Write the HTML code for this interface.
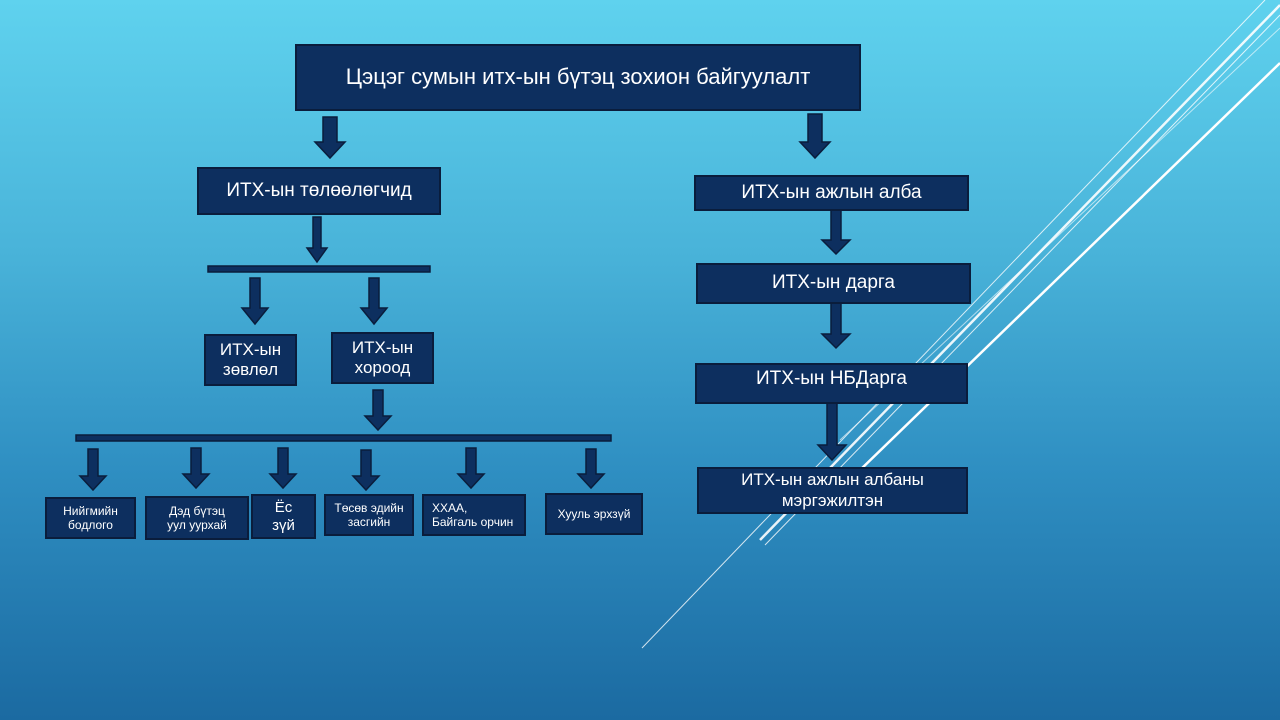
<!DOCTYPE html>
<html><head><meta charset="utf-8"><style>
body{margin:0;width:1280px;height:720px;overflow:hidden;position:relative;font-family:"Liberation Sans",sans-serif;
background:linear-gradient(180deg,#5fd2ee 0%,#49b3d9 35%,#2f8fc2 65%,#1b6aa1 100%);}
.b{position:absolute;background:#0d2f5f;border:2px solid #0a1d3c;color:#fff;box-sizing:border-box;display:flex;align-items:center;justify-content:center;text-align:center;line-height:1.2}
svg{position:absolute;left:0;top:0}
</style></head><body>
<svg width="1280" height="720">
<g stroke="#fff" fill="none">
<line x1="642" y1="648" x2="1265" y2="0" stroke-width="1" opacity=".8"/>
<line x1="760" y1="540" x2="1280" y2="5" stroke-width="2.5" opacity=".9"/>
<line x1="765" y1="545" x2="1280" y2="15" stroke-width="1" opacity=".8"/>
<line x1="824" y1="505" x2="1280" y2="63" stroke-width="2.5"/>
<line x1="840" y1="440" x2="1280" y2="28" stroke-width="1" opacity=".6"/>
</g>
<g fill="#0d2f5f" stroke="#0a1d3c" stroke-width="1.5">
<polygon points="323,117 337,117 337,142 345,142 330,158 315,142 323,142"/>
<polygon points="808,114 822,114 822,142 830,142 815,158 800,142 808,142"/>
<polygon points="313,217 321,217 321,248 327,248 317,262 307,248 313,248"/>
<polygon points="250,278 260,278 260,308 268,308 255,324 242,308 250,308"/>
<polygon points="369,278 379,278 379,308 387,308 374,324 361,308 369,308"/>
<polygon points="373,390 383,390 383,416 391,416 378,430 365,416 373,416"/>
<polygon points="88,449 98,449 98,476 106,476 93,490 80,476 88,476"/>
<polygon points="191,448 201,448 201,474 209,474 196,488 183,474 191,474"/>
<polygon points="278,448 288,448 288,474 296,474 283,488 270,474 278,474"/>
<polygon points="361,450 371,450 371,476 379,476 366,490 353,476 361,476"/>
<polygon points="466,448 476,448 476,474 484,474 471,488 458,474 466,474"/>
<polygon points="586,449 596,449 596,474 604,474 591,488 578,474 586,474"/>
<polygon points="831,204 841,204 841,240 850,240 836,254 822,240 831,240"/>
<polygon points="831,297 841,297 841,334 850,334 836,348 822,334 831,334"/>
<polygon points="827,400 837,400 837,445 846,445 832,460 818,445 827,445"/>
<rect x="208" y="266" width="222" height="6"/>
<rect x="76" y="435" width="535" height="6"/>
</g>
</svg>
<div class="b" style="left:295px;top:44px;width:566px;height:67px;font-size:22px">Цэцэг сумын итх-ын бүтэц зохион байгуулалт</div>
<div class="b" style="left:197px;top:167px;width:244px;height:48px;font-size:19px">ИТХ-ын төлөөлөгчид</div>
<div class="b" style="left:204px;top:334px;width:93px;height:52px;font-size:17px">ИТХ-ын<br>зөвлөл</div>
<div class="b" style="left:331px;top:332px;width:103px;height:52px;font-size:17px">ИТХ-ын<br>хороод</div>
<div class="b" style="left:45px;top:497px;width:91px;height:42px;font-size:12px">Нийгмийн<br>бодлого</div>
<div class="b" style="left:145px;top:496px;width:104px;height:44px;font-size:12px">Дэд бүтэц<br>уул уурхай</div>
<div class="b" style="left:251px;top:494px;width:65px;height:45px;font-size:15px">Ёс<br>зүй</div>
<div class="b" style="left:324px;top:494px;width:90px;height:42px;font-size:12px">Төсөв эдийн<br>засгийн</div>
<div class="b" style="left:422px;top:494px;width:104px;height:42px;font-size:12px;justify-content:flex-start;text-align:left;padding-left:8px">ХХАА,<br>Байгаль орчин</div>
<div class="b" style="left:545px;top:493px;width:98px;height:42px;font-size:12px">Хууль эрхзүй</div>
<div class="b" style="left:694px;top:175px;width:275px;height:36px;font-size:19px">ИТХ-ын ажлын алба</div>
<div class="b" style="left:696px;top:263px;width:275px;height:41px;font-size:19px">ИТХ-ын дарга</div>
<div class="b" style="left:695px;top:363px;width:273px;height:41px;font-size:19px;padding-bottom:8px">ИТХ-ын НБДарга</div>
<div class="b" style="left:697px;top:467px;width:271px;height:47px;font-size:17px">ИТХ-ын ажлын албаны<br>мэргэжилтэн</div>
</body></html>
